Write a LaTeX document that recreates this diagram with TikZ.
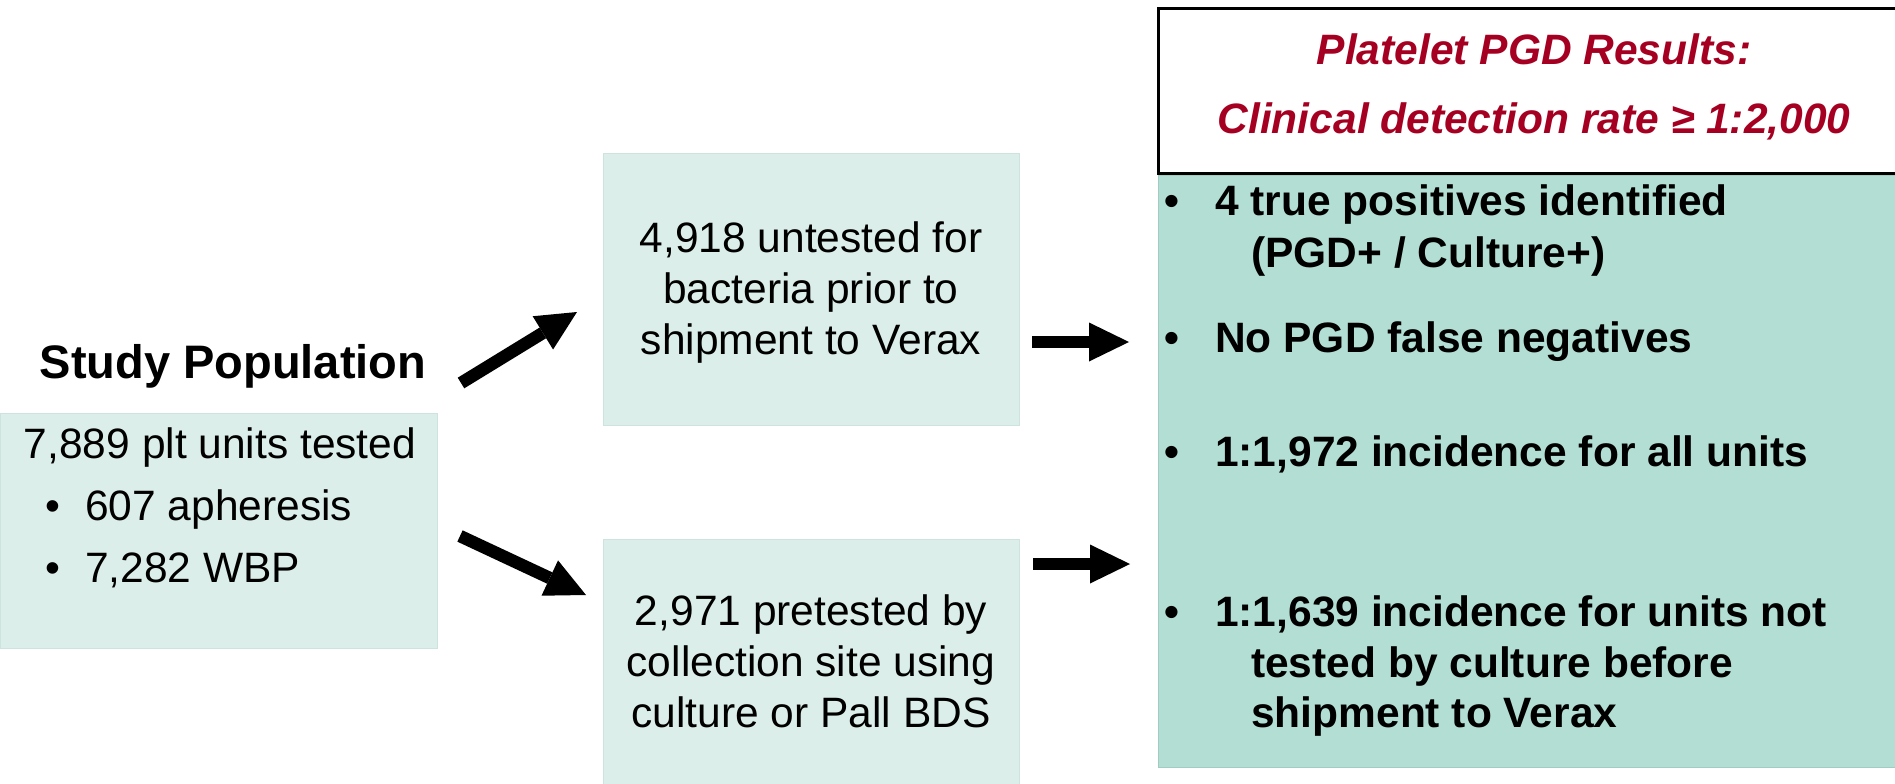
\documentclass[tikz,border=0pt]{standalone}
\usepackage{fontspec}
\setmainfont{Liberation Sans}
\usetikzlibrary{arrows.meta}

\definecolor{paleteal}{HTML}{DCEEE9}
\definecolor{paleedge}{HTML}{CFE3DE}
\definecolor{midteal}{HTML}{B3DED3}
\definecolor{tealedge}{HTML}{A3CCC1}
\definecolor{headred}{HTML}{A50021}

\tikzset{
  txt/.style={inner sep=0pt, font=\fontsize{42.5}{51}\selectfont},
  boldtxt/.style={inner sep=0pt, font=\fontsize{42.5}{51}\selectfont\bfseries},
  headtxt/.style={inner sep=0pt, text=headred,
    font=\fontsize{42.5}{51}\selectfont\bfseries\itshape},
  softbox/.style={draw=paleedge, line width=0.8pt, fill=paleteal,
    inner sep=0pt, anchor=north west},
  blockarrow/.style={draw=black, line width=12.5pt,
    -{Triangle[width=39pt,length=40pt,line width=0pt]}},
}

\begin{document}
\begin{tikzpicture}[x=1pt,y=-1pt]
  \useasboundingbox (0,0) rectangle (1895,784);
  \clip (0,0) rectangle (1895,784);

  % ---- left: study population ----
  \node[inner sep=0pt, anchor=base,
        font=\fontsize{47}{56}\selectfont\bfseries] (title) at (233,378)
        {Study Population};
  \node[softbox, minimum width=437pt, minimum height=235pt] (popbox) at (0,413) {};
  \node[txt, anchor=base] (total) at (220,458) {7,889 plt units tested};
  \node[txt, anchor=base] (pb1) at (53,520) {\textbullet};
  \node[txt, anchor=base west] (apher) at (85,520) {607 apheresis};
  \node[txt, anchor=base] (pb2) at (53,582) {\textbullet};
  \node[txt, anchor=base west] (wbp) at (85,582) {7,282 WBP};

  % ---- middle: the two groups ----
  \node[softbox, minimum width=416pt, minimum height=272pt] (untested) at (603,153) {};
  \node[txt, align=center] (untestedtxt) at (811,293)
        {4,918 untested for\\bacteria prior to\\shipment to Verax};
  \node[softbox, minimum width=416pt, minimum height=245pt] (pretested) at (603,539) {};
  \node[txt, align=center] (pretestedtxt) at (811,661)
        {2,971 pretested by\\collection site using\\culture or Pall BDS};

  % ---- right: results ----
  \node[draw=black, line width=3pt, fill=white, inner sep=0pt, anchor=north west,
        minimum width=760pt, minimum height=165pt] (header) at (1157,7) {};
  \node[headtxt, anchor=base] (headA) at (1534,65) {Platelet PGD Results:};
  \node[headtxt, anchor=base] (headB) at (1534,133) {Clinical detection rate ≥ 1:2,000};

  \node[draw=tealedge, line width=1pt, fill=midteal, inner sep=0pt, anchor=north west,
        minimum width=760pt, minimum height=592pt] (results) at (1158,175) {};

  \node[boldtxt, anchor=base] (rb1) at (1172,215) {\textbullet};
  \node[boldtxt, anchor=base west] (r1a) at (1215,215) {4 true positives identified};
  \node[boldtxt, anchor=base west] (r1b) at (1251,267) {(PGD+ / Culture+)};

  \node[boldtxt, anchor=base] (rb2) at (1172,352) {\textbullet};
  \node[boldtxt, anchor=base west] (r2) at (1215,352) {No PGD false negatives};

  \node[boldtxt, anchor=base] (rb3) at (1172,466) {\textbullet};
  \node[boldtxt, anchor=base west] (r3) at (1215,466) {1:1,972 incidence for all units};

  \node[boldtxt, anchor=base] (rb4) at (1172,626) {\textbullet};
  \node[boldtxt, anchor=base west] (r4a) at (1215,626) {1:1,639 incidence for units not};
  \node[boldtxt, anchor=base west] (r4b) at (1251,677) {tested by culture before};
  \node[boldtxt, anchor=base west] (r4c) at (1251,727) {shipment to Verax};

  % ---- block arrows ----
  \coordinate (a1s) at (461,383);  \coordinate (a1e) at (577,312);
  \coordinate (a2s) at (460,536);  \coordinate (a2e) at (586,595);
  \coordinate (a3s) at (1032,342); \coordinate (a3e) at (1129,342);
  \coordinate (a4s) at (1033,564); \coordinate (a4e) at (1130,564);
  \draw[blockarrow] (a1s) -- (a1e);
  \draw[blockarrow] (a2s) -- (a2e);
  \draw[blockarrow] (a3s) -- (a3e);
  \draw[blockarrow] (a4s) -- (a4e);
\end{tikzpicture}
\end{document}
